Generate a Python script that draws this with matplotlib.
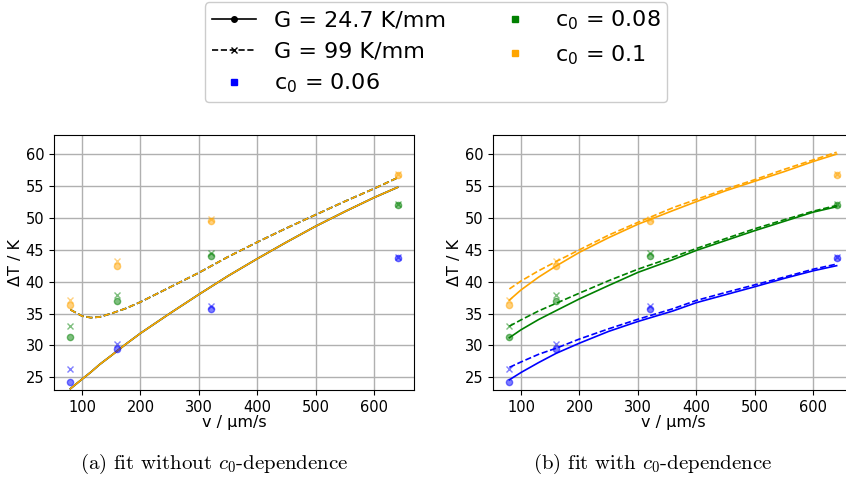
import matplotlib
matplotlib.use("Agg")
import matplotlib.pyplot as plt
from matplotlib.lines import Line2D

# measured undercooling at the four pulling velocities
v_meas = [80, 160, 320, 640]

# G = 24.7 K/mm
dT_low_006 = [24.3, 29.5, 35.75, 43.7]
dT_low_008 = [31.25, 37.0, 44.0, 51.95]
dT_low_010 = [36.3, 42.45, 49.5, 56.8]
# G = 99 K/mm
dT_high_006 = [26.3, 30.2, 36.2, 43.9]
dT_high_008 = [33.05, 37.95, 44.55, 52.15]
dT_high_010 = [37.05, 43.2, 49.9, 56.95]

# fit without c0-dependence (same curve for every c0)
v_fit_a = [80, 100, 115, 130, 150, 175, 200, 250, 300, 350, 400, 450, 500, 550, 600, 640]
fit_a_low = [23.2, 24.7, 25.8, 27.0, 28.4, 30.2, 31.9, 35.0, 38.0, 40.9, 43.6, 46.2, 48.7, 51.0, 53.2, 54.8]
fit_a_high = [35.6, 34.6, 34.35, 34.45, 35.0, 35.8, 36.8, 39.1, 41.4, 43.9, 46.2, 48.4, 50.5, 52.6, 54.6, 56.3]

# fit with c0-dependence
v_fit_b = [80, 100, 130, 160, 200, 250, 300, 360, 400, 450, 500, 550, 600, 640]
fit_b_low_006 = [24.6, 25.75, 27.3, 28.75, 30.35, 32.2, 33.75, 35.4, 36.7, 37.95, 39.2, 40.5, 41.7, 42.5]
fit_b_low_008 = [31.2, 32.45, 34.05, 35.45, 37.3, 39.4, 41.45, 43.45, 44.9, 46.45, 48.0, 49.45, 50.9, 51.75]
fit_b_low_010 = [37.1, 38.7, 40.7, 42.45, 44.6, 46.9, 49.0, 51.15, 52.55, 54.25, 55.75, 57.25, 58.85, 60.0]
fit_b_high_006 = [26.55, 27.4, 28.6, 29.55, 31.0, 32.6, 34.1, 35.75, 37.05, 38.3, 39.5, 40.7, 41.95, 42.75]
fit_b_high_008 = [33.0, 34.0, 35.4, 36.6, 38.2, 40.15, 41.95, 43.85, 45.2, 46.75, 48.3, 49.7, 51.05, 51.95]
fit_b_high_010 = [38.85, 40.1, 41.7, 43.15, 45.0, 47.3, 49.3, 51.6, 52.9, 54.5, 56.0, 57.6, 59.1, 60.3]

colors = ['blue', 'green', 'orange']
c0_labels = [r'c$_0$ = 0.06', r'c$_0$ = 0.08', r'c$_0$ = 0.1']
meas_low = [dT_low_006, dT_low_008, dT_low_010]
meas_high = [dT_high_006, dT_high_008, dT_high_010]
fit_b_low = [fit_b_low_006, fit_b_low_008, fit_b_low_010]
fit_b_high = [fit_b_high_006, fit_b_high_008, fit_b_high_010]

W, H = 846, 480
fig = plt.figure(figsize=(W / 100, H / 100), dpi=100)
ax_a = fig.add_axes([54 / W, 90 / H, 360 / W, 255 / H])
ax_b = fig.add_axes([493 / W, 90 / H, 360 / W, 255 / H])

lw = 1.2
for ax in (ax_a, ax_b):
    for i, col in enumerate(colors):
        ax.plot(v_meas, meas_low[i], 'o', color=col, alpha=0.5, ms=4.5, zorder=3)
        ax.plot(v_meas, meas_high[i], 'x', color=col, alpha=0.5, ms=4.5, mew=1, zorder=3)

# left: one curve for all c0, drawn once per colour
for col in colors:
    ax_a.plot(v_fit_a, fit_a_low, '-', color=col, lw=lw)
    ax_a.plot(v_fit_a, fit_a_high, '--', color=col, lw=lw)

# right: one curve per c0
for i, col in enumerate(colors):
    ax_b.plot(v_fit_b, fit_b_low[i], '-', color=col, lw=lw)
    ax_b.plot(v_fit_b, fit_b_high[i], '--', color=col, lw=lw)

for ax in (ax_a, ax_b):
    ax.set_ylim(23, 63)
    ax.set_xlim(52, 668)
    ax.set_xticks([100, 200, 300, 400, 500, 600])
    ax.set_yticks([25, 30, 35, 40, 45, 50, 55, 60])
    ax.tick_params(labelsize=10.5)
    ax.grid(True, color='#b0b0b0', lw=1)
    ax.set_axisbelow(True)
    ax.set_xlabel('v / µm/s', fontsize=11.5, labelpad=0)
    ax.set_ylabel('ΔT / K', fontsize=11.5, labelpad=2)

handles = [
    Line2D([], [], color='k', ls='-', marker='o', ms=4, lw=1.2),
    Line2D([], [], color='k', ls='--', marker='x', ms=4, lw=1.2),
]
labels = ['G = 24.7 K/mm', 'G = 99 K/mm']
for col, lab in zip(colors, c0_labels):
    handles.append(Line2D([], [], color=col, ls='none', marker='s', ms=5))
    labels.append(lab)

fig.legend(handles, labels, ncol=2, loc='upper center',
           bbox_to_anchor=(436 / W, 1.0), borderaxespad=0.1, fontsize=16,
           handlelength=2.0, columnspacing=2.1, labelspacing=0.47,
           borderpad=0.3, framealpha=1, edgecolor='#cccccc')

fig.text(214 / W, 1 - 464 / H, r'(a) fit without $c_0$-dependence',
         family='cmr10', math_fontfamily='cm', fontsize=15, ha='center', va='center')
fig.text(653 / W, 1 - 464 / H, r'(b) fit with $c_0$-dependence',
         family='cmr10', math_fontfamily='cm', fontsize=15, ha='center', va='center')

fig.savefig('out.png', dpi=100)
